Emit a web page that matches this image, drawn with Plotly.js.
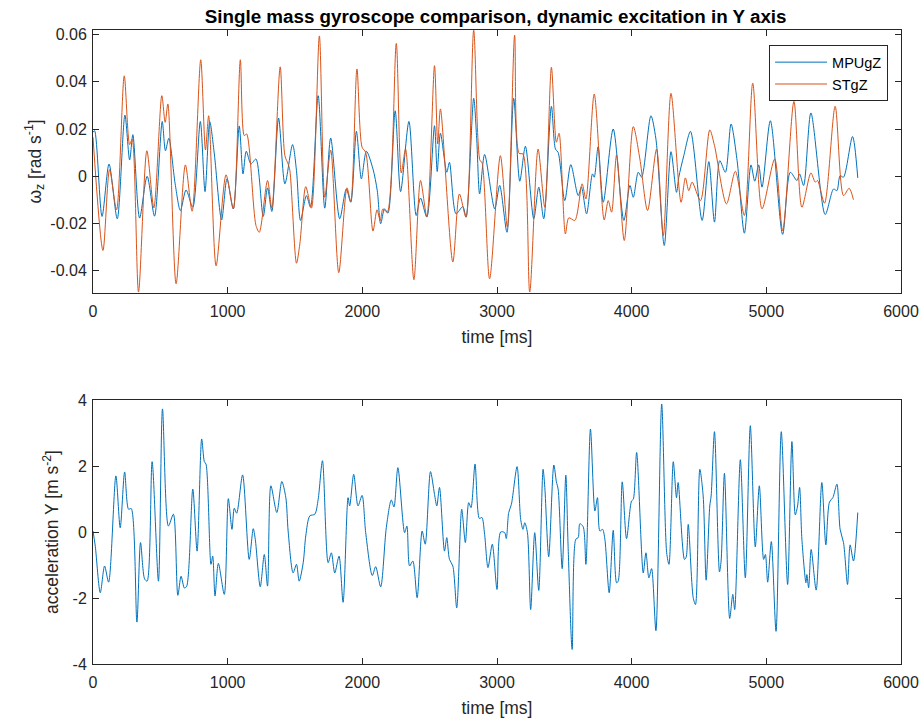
<!DOCTYPE html>
<html>
<head>
<meta charset="utf-8">
<script src="https://cdn.plot.ly/plotly-3.0.1.min.js"></script>
<style>html,body{margin:0;padding:0;background:#fff;}#chart{width:923px;height:722px;}</style>
</head>
<body>
<div id="chart"></div>
<script>
// ---- Top panel: angular rate z [rad/s] ----
const mpuTime = [0,12,67,119,180,237,272,296,346,402,457,514,538,563,610,649,691,741,797,832,867,901,955,995,1042,1086,1114,1138,1173,1210,1264,1296,1328,1378,1425,1482,1511,1541,1585,1615,1672,1721,1765,1832,1881,1914,1956,1993,2030,2079,2111,2136,2165,2190,2244,2284,2346,2400,2432,2479,2536,2556,2580,2627,2647,2696,2746,2770,2827,2850,2871,2908,2983,3020,3074,3124,3169,3211,3273,3310,3347,3404,3434,3454,3503,3548,3603,3627,3665,3709,3722,3751,3789,3863,3942,3987,4012,4049,4074,4143,4180,4242,4292,4333,4350,4387,4437,4523,4573,4615,4654,4696,4738,4783,4837,4886,4914,4943,4968,5030,5121,5178,5227,5247,5277,5331,5437,5499,5524,5548,5573,5640,5679];
const mpuGz = [0.0186,0.0193,-0.0170,0.0052,-0.0180,0.0259,0.0069,0.0176,-0.0177,0.0000,-0.0169,0.0232,0.0108,0.0161,-0.0032,-0.0145,-0.0058,-0.0131,0.0232,-0.0065,0.0231,0.0094,-0.0185,-0.0011,-0.0138,0.0213,0.0010,0.0106,0.0052,0.0073,-0.0170,-0.0049,-0.0149,0.0246,-0.0032,0.0134,0.0024,-0.0187,-0.0082,-0.0131,0.0341,-0.0135,0.0162,-0.0180,-0.0054,-0.0110,0.0190,-0.0011,0.0106,0.0031,-0.0061,-0.0201,-0.0138,-0.0156,0.0277,-0.0065,0.0232,-0.0166,-0.0092,-0.0173,0.0214,0.0020,0.0182,0.0017,0.0059,-0.0159,-0.0128,-0.0173,0.0330,0.0150,-0.0075,0.0092,-0.0138,-0.0039,-0.0237,0.0330,-0.0021,0.0127,-0.0180,-0.0046,-0.0180,0.0296,0.0115,0.0101,-0.0103,0.0049,-0.0082,-0.0046,-0.0159,0.0010,-0.0004,0.0125,-0.0110,0.0200,-0.0187,-0.0039,-0.0089,0.0017,-0.0004,0.0256,0.0158,-0.0293,0.0104,-0.0068,-0.0004,0.0087,0.0190,-0.0187,0.0062,-0.0194,0.0066,0.0017,0.0221,0.0066,-0.0241,0.0048,-0.0021,0.0048,-0.0046,0.0235,-0.0246,0.0017,-0.0018,0.0010,-0.0039,0.0268,-0.0162,-0.0054,-0.0061,0.0003,-0.0004,0.0168,-0.0007];

const stTime = [0,74,123,175,232,272,291,338,400,452,511,536,556,617,686,736,800,835,859,914,988,1042,1094,1123,1141,1210,1235,1296,1328,1390,1425,1449,1462,1511,1536,1580,1622,1681,1721,1765,1825,1886,1914,1960,1998,2025,2079,2109,2133,2153,2185,2252,2289,2321,2383,2432,2479,2536,2560,2580,2672,2721,2770,2827,2874,2888,2945,3025,3077,3131,3164,3193,3243,3305,3355,3404,3441,3461,3508,3533,3578,3632,3660,3722,3796,3826,3851,3888,3945,4012,4061,4118,4185,4235,4292,4367,4399,4424,4449,4511,4580,4615,4704,4770,4837,4899,4968,5062,5121,5205,5264,5331,5363,5380,5432,5511,5573,5615,5647];
const stGz = [0.0165,-0.0314,0.0028,-0.0142,0.0425,0.0134,0.0158,-0.0490,0.0108,-0.0134,0.0341,0.0228,0.0306,-0.0455,0.0048,-0.0148,0.0493,0.0111,0.0256,-0.0379,0.0006,-0.0138,0.0493,0.0172,0.0179,-0.0208,-0.0237,-0.0018,-0.0135,0.0463,0.0087,0.0052,0.0024,-0.0368,-0.0286,-0.0044,-0.0135,0.0594,-0.0089,0.0111,-0.0408,-0.0049,-0.0107,0.0454,0.0123,0.0101,-0.0232,-0.0142,-0.0187,-0.0138,-0.0152,0.0562,0.0014,0.0115,-0.0438,-0.0018,-0.0170,0.0468,0.0137,0.0285,-0.0363,-0.0075,-0.0173,0.0618,0.0066,0.0059,-0.0434,0.0087,-0.0215,0.0597,0.0097,0.0094,-0.0490,0.0115,-0.0131,0.0461,0.0144,0.0182,-0.0244,-0.0176,-0.0187,-0.0032,-0.0096,0.0348,-0.0185,-0.0103,-0.0152,0.0090,-0.0272,0.0210,0.0073,-0.0145,0.0115,-0.0251,0.0351,-0.0110,-0.0007,-0.0061,-0.0025,-0.0103,0.0196,0.0130,-0.0117,0.0021,-0.0166,0.0394,-0.0138,0.0073,-0.0230,0.0317,-0.0131,0.0014,-0.0025,-0.0018,-0.0114,0.0296,-0.0082,-0.0051,-0.0099];

// ---- Bottom panel: acceleration Y [m/s^2] ----
const accTime = [0,17,54,86,116,170,202,235,264,284,326,353,383,402,439,486,516,560,597,630,654,679,696,741,773,807,827,839,876,889,906,931,975,1005,1032,1049,1067,1111,1160,1190,1205,1242,1272,1296,1321,1365,1402,1432,1449,1486,1511,1531,1561,1580,1610,1647,1672,1704,1746,1770,1795,1827,1857,1894,1906,1936,1968,1998,2025,2074,2099,2136,2178,2215,2235,2264,2314,2331,2351,2375,2407,2444,2467,2506,2536,2553,2573,2610,2627,2647,2672,2701,2738,2765,2790,2807,2837,2869,2888,2908,2933,2965,3000,3027,3057,3069,3087,3107,3149,3176,3193,3206,3226,3250,3280,3310,3342,3355,3384,3422,3441,3454,3484,3511,3528,3558,3585,3603,3615,3640,3660,3694,3727,3746,3764,3784,3801,3833,3863,3888,3900,3930,3962,3999,4012,4037,4086,4106,4128,4148,4180,4223,4260,4277,4309,4333,4345,4392,4405,4420,4457,4474,4506,4531,4553,4580,4590,4615,4652,4664,4689,4728,4751,4765,4807,4844,4881,4918,4948,4980,4993,5010,5037,5072,5111,5158,5190,5215,5232,5247,5264,5294,5301,5314,5333,5370,5412,5442,5469,5494,5524,5548,5573,5603,5622,5647,5679];
const accY = [0.03,-0.43,-1.84,-1.03,-1.52,1.70,0.13,1.82,0.69,0.71,-2.73,-0.32,-1.42,-1.49,2.13,-1.49,3.73,0.18,0.54,-1.92,-1.34,-1.70,-1.64,1.30,-0.58,2.82,2.13,2.06,-0.98,-0.73,-1.94,-0.95,-1.89,1.01,0.08,0.72,0.57,1.73,-0.83,0.10,-0.22,-1.66,-0.68,-1.64,1.40,0.59,1.53,1.04,0.03,-1.24,-0.98,-1.49,-0.93,-0.12,0.49,0.54,0.99,2.16,-0.93,-0.63,-1.24,-0.73,-2.13,1.04,0.79,1.75,0.79,1.11,-0.02,-1.32,-1.05,-1.66,0.13,0.97,0.76,1.95,-0.02,0.18,-1.03,-0.88,-1.99,0.03,-0.37,1.83,1.14,0.79,1.35,-0.58,-0.17,-0.83,-1.03,-2.30,0.69,-0.32,0.89,0.74,2.06,0.41,0.44,-0.07,-1.08,-0.37,-1.74,0.00,-0.02,-0.20,0.59,0.84,1.98,0.38,0.08,0.28,-0.02,-2.35,-0.02,-1.77,1.90,1.35,-0.75,2.03,1.52,1.30,-1.11,1.72,-0.43,-3.56,-0.22,-0.17,0.25,0.16,-0.98,3.12,0.64,1.04,0.03,0.08,-0.22,-1.84,0.05,-1.54,-1.49,1.52,-0.20,0.94,0.99,2.41,-1.24,-0.63,-1.39,-1.11,-2.99,3.88,-0.63,-0.98,2.13,1.04,1.50,-0.83,-0.76,0.23,-1.99,-2.20,1.90,1.09,-1.46,0.79,1.09,3.04,-1.21,-0.88,1.78,-2.62,-1.89,-2.35,2.19,-1.39,3.22,-0.45,1.40,-0.83,-0.68,-1.52,-0.29,-3.01,3.04,-1.59,2.74,0.52,0.79,1.35,-0.22,-1.54,-1.29,-1.69,-0.53,-1.76,1.50,-0.39,0.91,1.04,1.45,0.08,-0.32,-1.59,-0.39,-0.88,0.59];

const seriesNames = ['MPUgZ', 'STgZ'];
const xTicks = [0,1000,2000,3000,4000,5000,6000];
const topTicks = [-0.04,-0.02,0,0.02,0.04,0.06];
const topTickText = ['-0.04','-0.02','0','0.02','0.04','0.06'];
const botTicks = [-4,-2,0,2,4];

const BLUE = '#0072BD', ORANGE = '#D95319';
const FONT = 'Liberation Sans, Arial, Helvetica, sans-serif';

const traces = [
  {x: mpuTime, y: mpuGz, name: seriesNames[0], type: 'scatter', mode: 'lines',
   line: {color: BLUE, width: 1, shape: 'spline', smoothing: 0.8}, xaxis: 'x', yaxis: 'y'},
  {x: stTime, y: stGz, name: seriesNames[1], type: 'scatter', mode: 'lines',
   line: {color: ORANGE, width: 1, shape: 'spline', smoothing: 0.8}, xaxis: 'x', yaxis: 'y'},
  {x: accTime, y: accY, name: 'accY', showlegend: false, type: 'scatter', mode: 'lines',
   line: {color: BLUE, width: 1, shape: 'spline', smoothing: 0.8}, xaxis: 'x2', yaxis: 'y2'}
];

const axCommon = {
  showline: true, mirror: 'ticks', linecolor: '#262626', linewidth: 1,
  ticks: 'inside', ticklen: 6, tickcolor: '#262626', tickwidth: 1,
  showgrid: false, zeroline: false,
  tickfont: {family: FONT, size: 16, color: '#262626'}
};
const TITLE_FONT = {family: FONT, size: 17.5, color: '#262626'};

const layout = {
  width: 923, height: 722,
  paper_bgcolor: '#ffffff', plot_bgcolor: '#ffffff',
  margin: {l: 93, r: 22, t: 30, b: 58},
  font: {family: FONT, color: '#262626'},
  title: {text: '<b>Single mass gyroscope comparison, dynamic excitation in Y axis</b>',
          font: {family: FONT, size: 18.8, color: '#000000'}, x: 0.537, xanchor: 'center', y: 0.977, yanchor: 'middle'},
  showlegend: true,
  legend: {x: 0.984, xanchor: 'right', y: 0.976, yanchor: 'top',
           bgcolor: '#ffffff', bordercolor: '#262626', borderwidth: 1,
           font: {family: FONT, size: 14.5, color: '#000000'}, itemwidth: 52,
           tracegroupgap: 0},
  xaxis: Object.assign({}, axCommon, {domain: [0, 1], anchor: 'y', range: [0, 6000],
           tickvals: xTicks, ticktext: xTicks.map(String), ticklabelstandoff: 4,
           title: {text: 'time [ms]', font: TITLE_FONT, standoff: 11}}),
  yaxis: Object.assign({}, axCommon, {domain: [0.5852, 1], anchor: 'x', range: [-0.0494, 0.0619],
           tickvals: topTicks, ticktext: topTickText, ticklabelstandoff: 2,
           title: {text: 'ω<sub>z</sub> [rad s<sup>-1</sup>]', font: TITLE_FONT, standoff: 4}}),
  xaxis2: Object.assign({}, axCommon, {domain: [0, 1], anchor: 'y2', range: [0, 6000],
           tickvals: xTicks, ticktext: xTicks.map(String), ticklabelstandoff: 4,
           title: {text: 'time [ms]', font: TITLE_FONT, standoff: 11}}),
  yaxis2: Object.assign({}, axCommon, {domain: [0, 0.4164], anchor: 'x2', range: [-4, 4],
           tickvals: botTicks, ticktext: botTicks.map(String), ticklabelstandoff: 2,
           title: {text: 'acceleration Y [m s<sup>-2</sup>]', font: TITLE_FONT, standoff: 9}})
};

Plotly.newPlot('chart', traces, layout, {staticPlot: true, displayModeBar: false});
</script>
</body>
</html>
